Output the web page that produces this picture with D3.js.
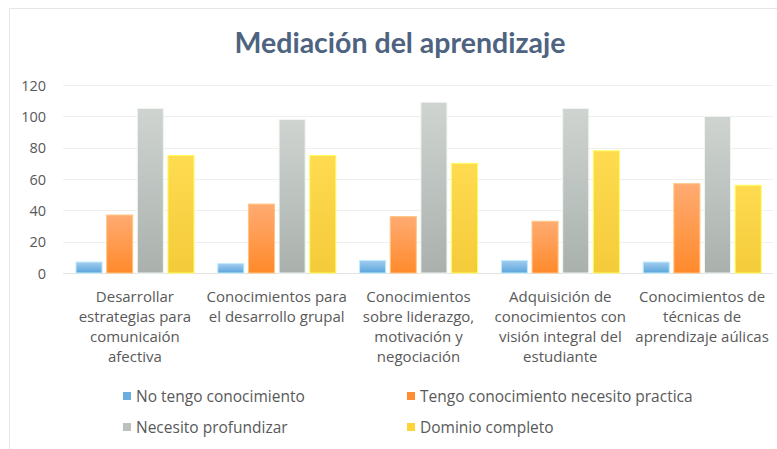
<!DOCTYPE html>
<html><head><meta charset="utf-8">
<script src="https://cdn.jsdelivr.net/npm/d3@7/dist/d3.min.js"></script>
<style>body{margin:0;background:#fff;}svg{display:block;font-family:"Open Sans",Lato,sans-serif;}</style>
</head><body>
<svg id="c" width="777" height="449"></svg>
<script>
const title = "Mediación del aprendizaje";
const categories = ["c1","c2","c3","c4","c5"];
const categoryLabels = [
  ["Desarrollar","estrategias para","comunicaión","afectiva"],
  ["Conocimientos para","el desarrollo grupal"],
  ["Conocimientos","sobre liderazgo,","motivación y","negociación"],
  ["Adquisición de","conocimientos con","visión integral del","estudiante"],
  ["Conocimientos de","técnicas de","aprendizaje aúlicas"]
];
const seriesNames = ["No tengo conocimiento","Tengo conocimiento necesito practica","Necesito profundizar","Dominio completo"];
const noTengo   = [7, 6, 8, 8, 7];
const tengo     = [37, 44, 36, 33, 57];
const necesito  = [105, 98, 109, 105, 100];
const dominio   = [75, 75, 70, 78, 56];
const seriesValues = [noTengo, tengo, necesito, dominio];
const yTicks = [0,20,40,60,80,100,120];

const colorsTop = ["#a3cdef","#ffab72","#cfd4d1","#ffdb50"];
const colorsBot = ["#5aa5dc","#ff8a2b","#aab1ad","#f4cb3a"];
const swatch    = ["#6aaee0","#ff8d33","#bcc1be","#ffd43b"];

const svg = d3.select("#c");
const defs = svg.append("defs");
colorsTop.forEach((c,i)=>{
  const g = defs.append("linearGradient").attr("id","g"+i).attr("x1",0).attr("y1",0).attr("x2",0).attr("y2",1);
  g.append("stop").attr("offset","0%").attr("stop-color",c);
  g.append("stop").attr("offset","100%").attr("stop-color",colorsBot[i]);
});

// frame
svg.append("rect").attr("x",9.5).attr("y",8.5).attr("width",900).attr("height",600)
  .attr("fill","none").attr("stroke","#e6e6e6");

const y = d3.scaleLinear().domain([0,120]).range([273,85]);
const x0 = d3.scaleBand().domain(categories).range([64,773]);
const x1 = d3.scaleBand().domain(d3.range(4)).range([12,130]).paddingInner(0.15);

// gridlines
svg.append("g").selectAll("line").data(yTicks).join("line")
  .attr("x1",63).attr("x2",773).attr("y1",d=>Math.round(y(d))+0.5).attr("y2",d=>Math.round(y(d))+0.5)
  .attr("stroke",d=>d===0?"#e3e3e3":"#efefef").attr("stroke-width",1.2);

// y axis labels
const yAxis = d3.axisLeft(y).tickValues(yTicks).tickSize(0).tickPadding(0);
const ya = svg.append("g").attr("transform","translate(46,0)").call(yAxis);
ya.select(".domain").remove();
ya.selectAll("text").attr("fill","#595959").style("font-size","14.5px").style("font-family","'Open Sans', sans-serif").attr("dy","0.35em");

// bars
const groups = svg.append("g").selectAll("g").data(categories).join("g")
  .attr("transform",d=>`translate(${x0(d)},0)`);
groups.selectAll("rect").data((d,ci)=>seriesValues.map((s,si)=>({si,v:s[ci]}))).join("rect")
  .attr("x",d=>x1(d.si)).attr("width",x1.bandwidth())
  .attr("y",d=>y(d.v)).attr("height",d=>y(0)-y(d.v))
  .attr("fill",d=>`url(#g${d.si})`)
  .attr("stroke",d=>d3.color(colorsTop[d.si]).brighter(0.4)).attr("stroke-width",1);

// category labels
const cl = svg.append("g").selectAll("text").data(categories).join("text")
  .attr("text-anchor","middle").attr("fill","#595959").style("font-size","15px")
  .attr("x",d=>x0(d)+x0.bandwidth()/2).attr("y",302);
cl.selectAll("tspan").data((d,i)=>categoryLabels[i]).join("tspan")
  .attr("x",function(){return this.parentNode.getAttribute("x");})
  .attr("dy",(d,i)=>i===0?0:20).text(d=>d);

// title
svg.append("text").attr("x",400).attr("y",53).attr("text-anchor","middle")
  .attr("fill","#4e6380").style("font-size","28.5px").style("font-weight","bold")
  .style("font-family","Lato, sans-serif").text(title);

// legend
const legPos = [[123,402],[407,402],[123,433],[407,433]];
const lg = svg.append("g").selectAll("g").data(seriesNames).join("g")
  .attr("transform",(d,i)=>`translate(${legPos[i][0]},${legPos[i][1]})`);
lg.append("rect").attr("x",0).attr("y",-10).attr("width",8).attr("height",8).attr("fill",(d,i)=>swatch[i]);
lg.append("text").attr("x",13).attr("y",0).attr("fill","#595959").style("font-size","15.5px").text(d=>d);
</script>
</body></html>
